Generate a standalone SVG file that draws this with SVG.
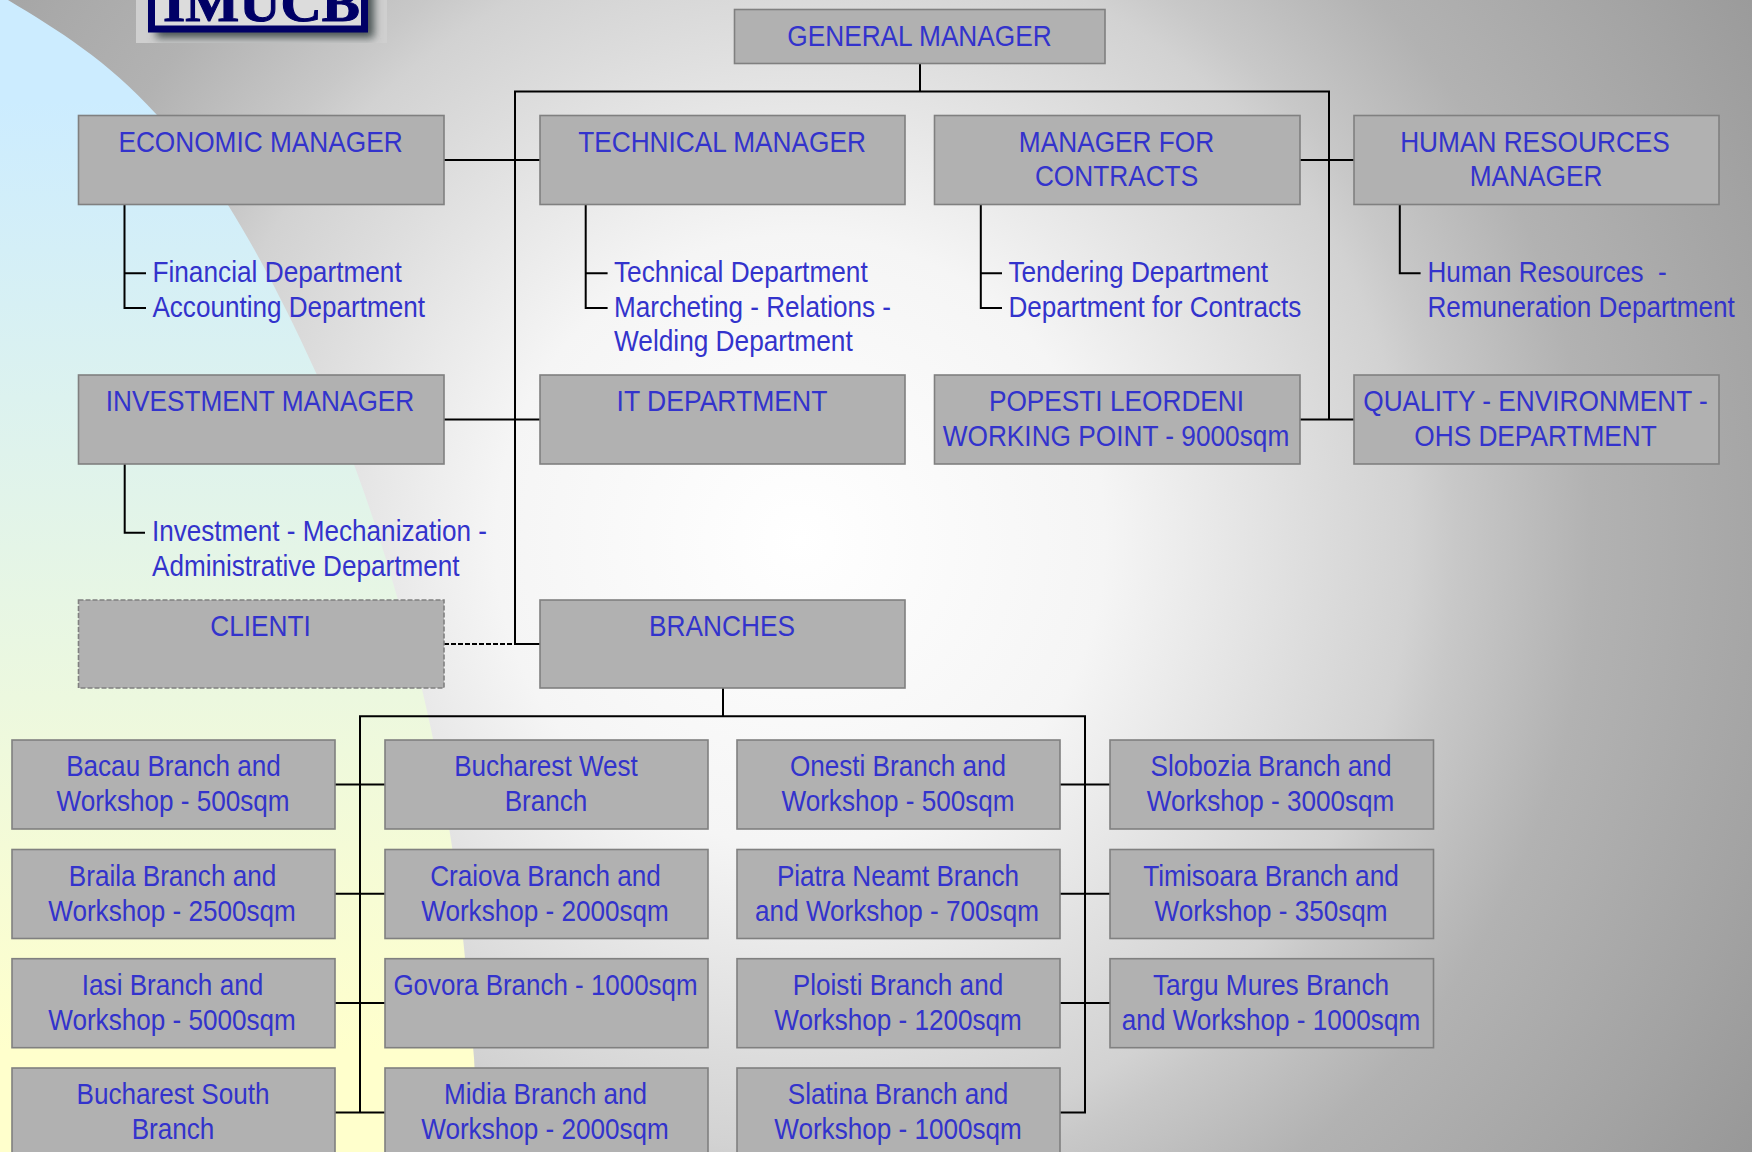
<svg xmlns="http://www.w3.org/2000/svg" width="1752" height="1152" viewBox="0 0 1752 1152">
<style>
.b{fill:#B1B1B1;stroke:#808080;stroke-width:1.600}
.d{stroke-dasharray:5 2}
.c{fill:#3333CC;font-family:"Liberation Sans",Arial,sans-serif;font-size:30px;text-anchor:middle}
.l{fill:#3333CC;font-family:"Liberation Sans",Arial,sans-serif;font-size:30px;text-anchor:start}
#connectors path{fill:none;stroke:#000;stroke-width:2}
</style>
<defs>
<radialGradient id="bg" gradientUnits="userSpaceOnUse" cx="800" cy="540" r="1130">
<stop offset="0" stop-color="#ffffff"/>
<stop offset=".27" stop-color="#f5f5f5"/>
<stop offset=".46" stop-color="#dcdcdc"/>
<stop offset=".54" stop-color="#d2d2d2"/>
<stop offset=".58" stop-color="#c8c8c8"/>
<stop offset=".7" stop-color="#b2b2b2"/>
<stop offset=".88" stop-color="#a3a3a3"/>
<stop offset="1" stop-color="#989898"/>
</radialGradient>
<linearGradient id="sw" gradientUnits="userSpaceOnUse" x1="0" y1="100" x2="0" y2="1050">
<stop offset="0" stop-color="#CCECFF"/>
<stop offset="1" stop-color="#FFFFCC"/>
</linearGradient>
<filter id="blur" x="-20%" y="-50%" width="140%" height="200%"><feGaussianBlur stdDeviation="4"/></filter>
<clipPath id="logoclip"><rect x="136" y="0" width="251" height="43"/></clipPath>
</defs>
<rect width="1752" height="1152" fill="url(#bg)"/>
<path d="M0,-2 L8,0 C58,30 107,60 157,115 C181,141 204,167 228,205 C258,253 287,309 317,375 C344,434 371,505 398,600 C416,663 433,723 451,840 C459,892 466,962 474,1058 L479,1152 L0,1152 Z" fill="url(#sw)"/>
<g id="logo" clip-path="url(#logoclip)">
<rect x="136" y="0" width="251" height="43" fill="#cfcfcf"/>
<rect x="156" y="-10" width="218" height="48" fill="#4a5252" filter="url(#blur)"/>
<rect x="148" y="-10" width="220" height="42.500" fill="#000066"/>
<rect x="155" y="-10" width="206" height="35.500" fill="#dcdcdc"/>
<text x="163" y="20.700" font-family="'Liberation Serif',serif" font-weight="700" font-size="52" fill="#000066" stroke="#000066" stroke-width="1" textLength="197" lengthAdjust="spacingAndGlyphs">IMUCB</text>
</g>
<g id="connectors">
<path d="M920,64V91.500M515,644V91.500H1329V419.500"/>
<path d="M444,160H540M1300,160H1354M444,419.500H540M1300,419.500H1354M515,644H540"/>
<path d="M444,644H515" stroke-dasharray="5 2"/>
<path d="M124.500,204.500V308H146M124.500,273.300H146"/>
<path d="M585.700,204.500V308H607.600M585.700,273.300H607.600"/>
<path d="M980.800,204.500V308H1002M980.800,273.300H1002"/>
<path d="M1399.800,204.500V273.300H1420.600"/>
<path d="M124.700,463.700V532.700H145"/>
<path d="M723,688V716.300M360,1112.500V716.300H1085V1112.500H1060"/>
<path d="M335,784.500H385M335,893.700H385M335,1003H385M335,1112.500H385"/>
<path d="M1060,784.500H1110M1060,893.700H1110M1060,1003H1110"/>
</g>
<g id="general-manager"><rect class="b" x="734.500" y="9.500" width="370.500" height="54"/><text class="c" transform="translate(919.500 45.700) scale(.875 1)">GENERAL MANAGER</text></g>
<g id="economic-manager"><rect class="b" x="78.500" y="115.500" width="365.500" height="89"/><text class="c" transform="translate(260.500 152.300) scale(.875 1)">ECONOMIC MANAGER</text></g>
<g id="technical-manager"><rect class="b" x="540" y="115.500" width="365" height="89"/><text class="c" transform="translate(722 152.300) scale(.875 1)">TECHNICAL MANAGER</text></g>
<g id="contracts-manager"><rect class="b" x="934.500" y="115.500" width="365.500" height="89"/><text class="c" transform="translate(1116.500 152.300) scale(.875 1)">MANAGER FOR</text><text class="c" transform="translate(1116.500 186.300) scale(.875 1)">CONTRACTS</text></g>
<g id="hr-manager"><rect class="b" x="1354" y="115.500" width="365" height="89"/><text class="c" transform="translate(1535 152.300) scale(.875 1)">HUMAN RESOURCES</text><text class="c" transform="translate(1536 186.300) scale(.875 1)">MANAGER</text></g>
<g id="financial-depts"><text class="l" transform="translate(152.400 282.300) scale(.875 1)">Financial Department</text><text class="l" transform="translate(152.400 316.700) scale(.87 1)">Accounting Department</text></g>
<g id="technical-depts"><text class="l" transform="translate(614 282.300) scale(.875 1)">Technical Department</text><text class="l" transform="translate(614 316.700) scale(.87 1)">Marcheting - Relations -</text><text class="l" transform="translate(614 351) scale(.875 1)">Welding Department</text></g>
<g id="contract-depts"><text class="l" transform="translate(1008.400 282.300) scale(.875 1)">Tendering Department</text><text class="l" transform="translate(1008.400 316.700) scale(.87 1)">Department for Contracts</text></g>
<g id="hr-depts"><text class="l" xml:space="preserve" transform="translate(1427.400 282.300) scale(.87 1)">Human Resources  -</text><text class="l" transform="translate(1427.400 316.700) scale(.87 1)">Remuneration Department</text></g>
<g id="investment-manager"><rect class="b" x="78.500" y="375" width="365.500" height="89"/><text class="c" transform="translate(260 411) scale(.875 1)">INVESTMENT MANAGER</text></g>
<g id="it-department"><rect class="b" x="540" y="375" width="365" height="89"/><text class="c" transform="translate(722 411) scale(.885 1)">IT DEPARTMENT</text></g>
<g id="popesti"><rect class="b" x="934.500" y="375" width="365.500" height="89"/><text class="c" transform="translate(1116.500 411) scale(.875 1)">POPESTI LEORDENI</text><text class="c" transform="translate(1116 446) scale(.875 1)">WORKING POINT - 9000sqm</text></g>
<g id="quality"><rect class="b" x="1354" y="375" width="365" height="89"/><text class="c" transform="translate(1535.500 411) scale(.875 1)">QUALITY - ENVIRONMENT -</text><text class="c" transform="translate(1535.500 446) scale(.875 1)">OHS DEPARTMENT</text></g>
<g id="investment-depts"><text class="l" transform="translate(152 541) scale(.87 1)">Investment - Mechanization -</text><text class="l" transform="translate(152 576) scale(.87 1)">Administrative Department</text></g>
<g id="clienti"><rect class="b d" x="78.500" y="600" width="365.500" height="88"/><text class="c" transform="translate(260.500 635.500) scale(.875 1)">CLIENTI</text></g>
<g id="branches"><rect class="b" x="540" y="600" width="365" height="88"/><text class="c" transform="translate(722 635.500) scale(.875 1)">BRANCHES</text></g>
<g id="bacau"><rect class="b" x="12" y="740" width="323" height="89"/><text class="c" transform="translate(173.500 776) scale(.87 1)">Bacau Branch and</text><text class="c" transform="translate(173 811) scale(.87 1)">Workshop - 500sqm</text></g>
<g id="braila"><rect class="b" x="12" y="849.500" width="323" height="89"/><text class="c" transform="translate(172.500 885.500) scale(.87 1)">Braila Branch and</text><text class="c" transform="translate(172 920.500) scale(.87 1)">Workshop - 2500sqm</text></g>
<g id="iasi"><rect class="b" x="12" y="958.700" width="323" height="89"/><text class="c" transform="translate(172.500 995) scale(.87 1)">Iasi Branch and</text><text class="c" transform="translate(172 1029.500) scale(.87 1)">Workshop - 5000sqm</text></g>
<g id="bucharest-south"><rect class="b" x="12" y="1068" width="323" height="89"/><text class="c" transform="translate(173 1104) scale(.87 1)">Bucharest South</text><text class="c" transform="translate(173 1138.500) scale(.87 1)">Branch</text></g>
<g id="bucharest-west"><rect class="b" x="385" y="740" width="323" height="89"/><text class="c" transform="translate(546 776) scale(.87 1)">Bucharest West</text><text class="c" transform="translate(546 811) scale(.87 1)">Branch</text></g>
<g id="craiova"><rect class="b" x="385" y="849.500" width="323" height="89"/><text class="c" transform="translate(545.500 885.500) scale(.87 1)">Craiova Branch and</text><text class="c" transform="translate(545 920.500) scale(.87 1)">Workshop - 2000sqm</text></g>
<g id="govora"><rect class="b" x="385" y="958.700" width="323" height="89"/><text class="c" transform="translate(545.500 995) scale(.865 1)">Govora Branch - 1000sqm</text></g>
<g id="midia"><rect class="b" x="385" y="1068" width="323" height="89"/><text class="c" transform="translate(545.500 1104) scale(.87 1)">Midia Branch and</text><text class="c" transform="translate(545 1138.500) scale(.87 1)">Workshop - 2000sqm</text></g>
<g id="onesti"><rect class="b" x="737" y="740" width="323" height="89"/><text class="c" transform="translate(898 776) scale(.87 1)">Onesti Branch and</text><text class="c" transform="translate(898 811) scale(.87 1)">Workshop - 500sqm</text></g>
<g id="piatra-neamt"><rect class="b" x="737" y="849.500" width="323" height="89"/><text class="c" transform="translate(898 885.500) scale(.87 1)">Piatra Neamt Branch</text><text class="c" transform="translate(897 920.500) scale(.87 1)">and Workshop - 700sqm</text></g>
<g id="ploiesti"><rect class="b" x="737" y="958.700" width="323" height="89"/><text class="c" transform="translate(898 995) scale(.87 1)">Ploisti Branch and</text><text class="c" transform="translate(898 1029.500) scale(.87 1)">Workshop - 1200sqm</text></g>
<g id="slatina"><rect class="b" x="737" y="1068" width="323" height="89"/><text class="c" transform="translate(898 1104) scale(.87 1)">Slatina Branch and</text><text class="c" transform="translate(898 1138.500) scale(.87 1)">Workshop - 1000sqm</text></g>
<g id="slobozia"><rect class="b" x="1110" y="740" width="323.500" height="89"/><text class="c" transform="translate(1271 776) scale(.87 1)">Slobozia Branch and</text><text class="c" transform="translate(1270.500 811) scale(.87 1)">Workshop - 3000sqm</text></g>
<g id="timisoara"><rect class="b" x="1110" y="849.500" width="323.500" height="89"/><text class="c" transform="translate(1271 885.500) scale(.875 1)">Timisoara Branch and</text><text class="c" transform="translate(1271 920.500) scale(.87 1)">Workshop - 350sqm</text></g>
<g id="targu-mures"><rect class="b" x="1110" y="958.700" width="323.500" height="89"/><text class="c" transform="translate(1271 995) scale(.875 1)">Targu Mures Branch</text><text class="c" transform="translate(1271 1029.500) scale(.87 1)">and Workshop - 1000sqm</text></g>
</svg>
